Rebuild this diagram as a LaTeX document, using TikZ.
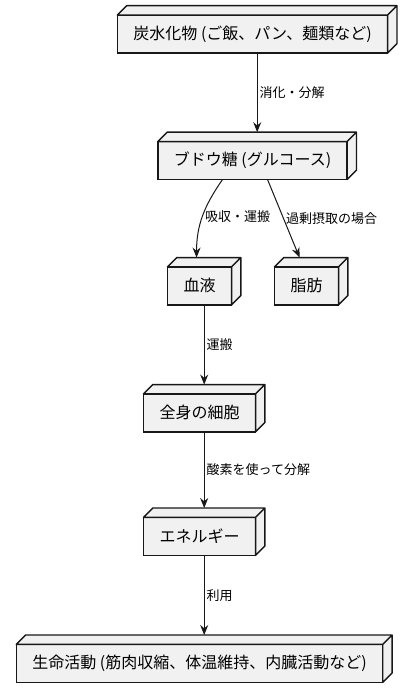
\documentclass[tikz,border=0pt]{standalone}
\usepackage{fontspec}
\setmainfont{Noto Sans CJK JP}
\usepackage{tikz}
\usetikzlibrary{arrows.meta}
\definecolor{boxcolour}{HTML}{F1F1F1}
\definecolor{linecolour}{HTML}{181818}
\newcommand{\dep}{7pt}
\tikzstyle{block} = [rectangle, minimum height=28.5pt, inner xsep=12pt, outer sep=0pt, text centered, draw=linecolour, line width=1.1pt, fill=boxcolour, font=\fontsize{12}{14}\selectfont]
\tikzstyle{side} = [draw=linecolour, line width=1.1pt, line join=round, fill=boxcolour]
\tikzstyle{arrow} = [draw=linecolour, line width=0.75pt, -{Stealth[length=7.5pt, width=6pt, inset=2.5pt]}]
\tikzstyle{tag} = [right, inner xsep=1.5pt, font=\fontsize{9.75}{11}\selectfont]

\begin{document}
\begin{tikzpicture}[node distance=94pt]
	\useasboundingbox (0,0) rectangle (310.5pt,-523.5pt);
	\node (carb) [block] at (189.4pt,-25.5pt) {炭水化物 (ご飯、パン、麺類など)};
	\node (glucose) [block, below of=carb, yshift=-0.9pt] {ブドウ糖 (グルコース)};
	\node (blood) [block, below of=glucose, xshift=-39.75pt] {血液};
	\node (fat) [block, below of=glucose, xshift=40.5pt] {脂肪};
	\node (cells) [block, below of=blood, yshift=-1.25pt] {全身の細胞};
	\node (energy) [block, below of=cells, yshift=1.4pt] {エネルギー};
	\node (life) [block, below of=energy, yshift=-1.25pt] {生命活動 (筋肉収縮、体温維持、内臓活動など)};
	% top and right faces
	\foreach \n in {carb, glucose, blood, fat, cells, energy, life}
		\draw [side] (\n.north west) -- ++(\dep,\dep) -- ([shift={(\dep,\dep)}]\n.north east) -- ([shift={(\dep,\dep)}]\n.south east) -- (\n.south east) -- (\n.north east) -- cycle
			(\n.north east) -- ++(\dep,\dep);
	\draw [arrow] ([xshift=\dep/2]carb.south) -- node [tag] {消化・分解} ([shift={(\dep/2,\dep)}]glucose.north);
	\draw [arrow] ([xshift=-22.5pt]glucose.south) to [out=-125, in=90] node [tag] {吸収・運搬} ([shift={(-2.25pt,\dep)}]blood.north);
	\draw [arrow] ([xshift=11.25pt]glucose.south) -- node [tag] {過剰摂取の場合} ([shift={(-5.25pt,\dep)}]fat.north);
	\draw [arrow] ([xshift=\dep/2]blood.south) -- node [tag] {運搬} ([shift={(\dep/2,\dep)}]cells.north);
	\draw [arrow] ([xshift=\dep/2]cells.south) -- node [tag] {酸素を使って分解} ([shift={(\dep/2,\dep)}]energy.north);
	\draw [arrow] ([xshift=\dep/2]energy.south) -- node [tag] {利用} ([shift={(\dep/2,\dep)}]life.north);
\end{tikzpicture}
\end{document}
